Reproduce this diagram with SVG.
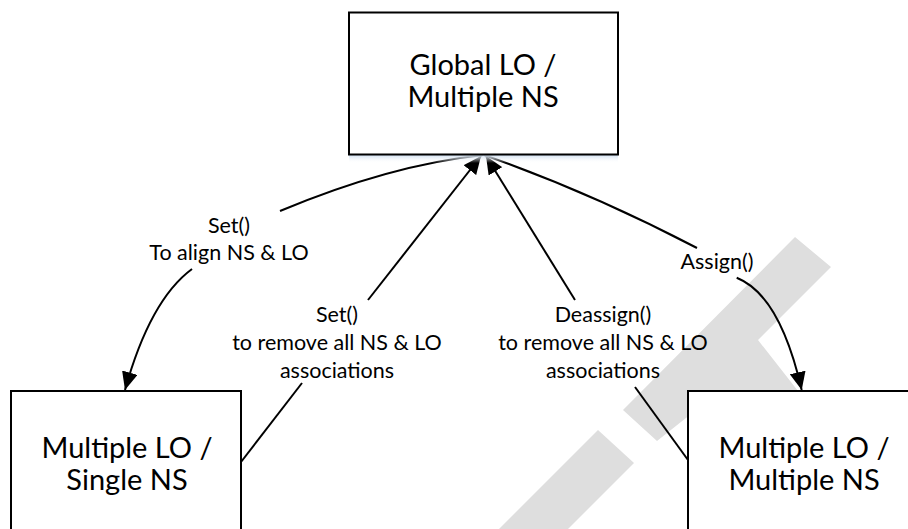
<svg xmlns="http://www.w3.org/2000/svg" width="908" height="529" viewBox="0 0 908 529">
<style>
.box{fill:#fff;stroke:#000;stroke-width:2}
.big{font-family:Lato,"Liberation Sans",sans-serif;font-size:29px;fill:#000;text-anchor:middle}
.lbl{font-family:Lato,"Liberation Sans",sans-serif;font-size:21.5px;fill:#000;text-anchor:middle}
.ln{fill:none;stroke:#000;stroke-width:2}
.wm{fill:#dedede}
</style>
<defs>
<marker id="ah" markerUnits="userSpaceOnUse" markerWidth="18" markerHeight="16" refX="18" refY="8" orient="auto">
<path d="M0,0 L18,8 L0,16 z" fill="#000"/>
</marker>
<linearGradient id="sh" x1="0" y1="0" x2="0" y2="1">
<stop offset="0" stop-color="#cfdff0"/>
<stop offset="1" stop-color="#ffffff" stop-opacity="0"/>
</linearGradient>
</defs>
<rect width="908" height="529" fill="#fff"/>
<g id="watermark">
<polygon class="wm" points="795,237 831,267 758,340 798,391 720,391 657,441 623,410"/>
<polygon class="wm" points="598,430 634,463 568,529 499,529"/>
</g>
<g id="connectors">
<path class="ln" d="M483,155 Q390,165 280,211"/>
<path class="ln" d="M192,269 Q150,300 125,390" marker-end="url(#ah)"/>
<path class="ln" d="M241,462 L302,383"/>
<path class="ln" d="M368,300 L481,156" marker-end="url(#ah)"/>
<path class="ln" d="M688,460 L635,387"/>
<path class="ln" d="M575,300 L486,156" marker-end="url(#ah)"/>
<path class="ln" d="M484,155 Q589.5,192 697,248"/>
<path class="ln" d="M736.7,277.7 Q780,295 801.7,390" marker-end="url(#ah)"/>
<g id="labels">
<text class="lbl" x="229" y="233">Set()</text>
<text class="lbl" x="229" y="260">To align NS &amp; LO</text>
<text class="lbl" x="337" y="322">Set()</text>
<text class="lbl" x="337" y="350">to remove all NS &amp; LO</text>
<text class="lbl" x="337" y="378">associations</text>
<text class="lbl" x="603" y="322">Deassign()</text>
<text class="lbl" x="603" y="350">to remove all NS &amp; LO</text>
<text class="lbl" x="603" y="378">associations</text>
<text class="lbl" x="717" y="269">Assign()</text>
</g>
</g>
<g id="node-global">
<rect x="349" y="155" width="269" height="8" fill="url(#sh)"/>
<rect class="box" x="349" y="12.5" width="269" height="142"/>
<text class="big" x="483" y="75">Global LO /</text>
<text class="big" x="483" y="107">Multiple NS</text>
</g>
<g id="node-single">
<rect class="box" x="11" y="391" width="230" height="150"/>
<text class="big" x="127" y="458">Multiple LO /</text>
<text class="big" x="127" y="490">Single NS</text>
</g>
<g id="node-multiple">
<rect class="box" x="688" y="391" width="230" height="150"/>
<text class="big" x="804" y="458">Multiple LO /</text>
<text class="big" x="804" y="490">Multiple NS</text>
</g>
</svg>
